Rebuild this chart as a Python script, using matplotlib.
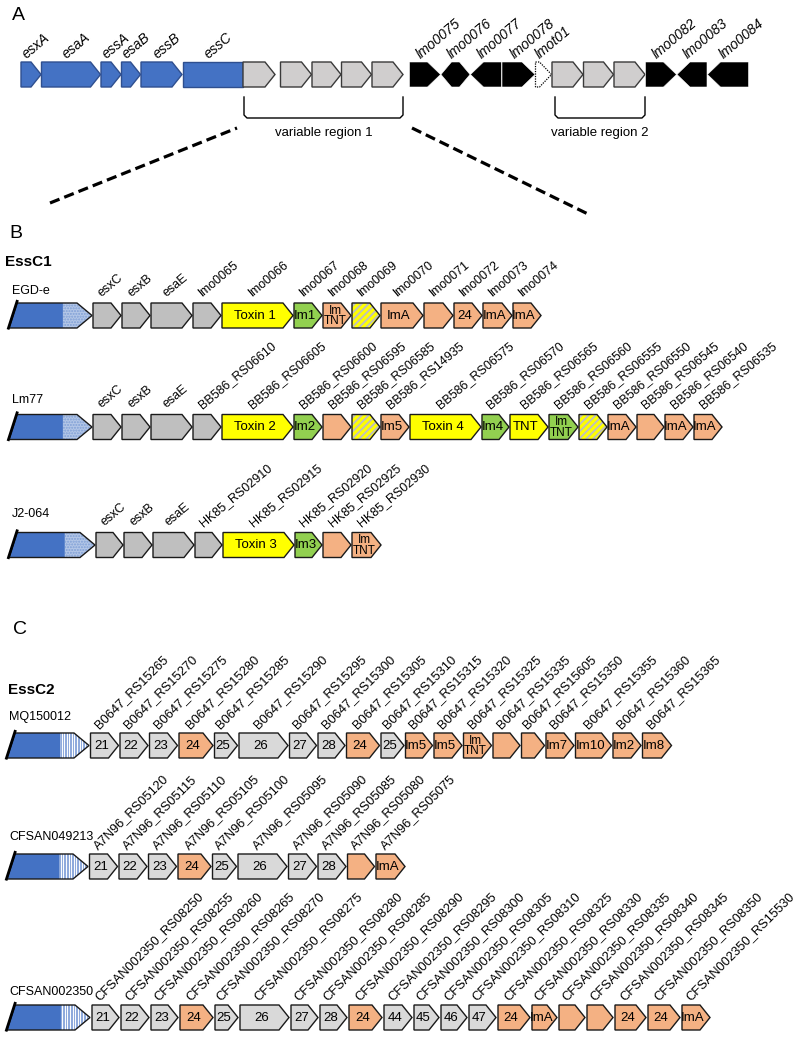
import matplotlib
matplotlib.use('Agg')
import matplotlib.pyplot as plt
from matplotlib.patches import Polygon

plt.rcParams['font.family'] = ['Liberation Sans', 'DejaVu Sans']

# ---------------- data ----------------
# Panel A: genomic overview
a_types = ['blue', 'blue', 'blue', 'blue', 'blue', 'blueN', 'grayA', 'gap', 'grayA', 'grayA',
           'grayA', 'grayA', 'gap', 'blkR', 'blkD', 'blkL', 'blkR', 'dot', 'grayA', 'grayA',
           'grayA', 'blkR', 'blkL', 'blkL']
a_lengths = [20, 59, 20, 19, 41, 60, 32, 5, 31, 29, 30, 31, 6, 31, 29, 31, 33, 16, 31, 30, 31, 31, 30, 41]
a_labels = ['esxA', 'esaA', 'essA', 'esaB', 'essB', 'essC', '', '', '', '', '', '', '',
            'lmo0075', 'lmo0076', 'lmo0077', 'lmo0078', 'lmot01', '', '', '', 'lmo0082', 'lmo0083', 'lmo0084']

# Panel B: EssC1 strains
b_names = ['EGD-e', 'Lm77', 'J2-064']
b_blue = [83, 83, 86]
egd_types = ['gray', 'gray', 'gray', 'gray', 'tox', 'im', 'sal', 'hat', 'sal', 'sal', 'sal', 'sal', 'sal']
egd_len = [28, 28, 41, 28, 71, 28, 28, 28, 42, 29, 28, 29, 28]
egd_text = ['', '', '', '', 'Toxin 1', 'Im1', 'Im\nTNT', '', 'ImA', '', '24', 'ImA', 'ImA']
egd_labels = ['esxC', 'esxB', 'esaE', 'lmo0065', 'lmo0066', 'lmo0067', 'lmo0068', 'lmo0069',
              'lmo0070', 'lmo0071', 'lmo0072', 'lmo0073', 'lmo0074']

lm77_types = ['gray', 'gray', 'gray', 'gray', 'tox', 'im', 'sal', 'hat', 'sal', 'tox', 'im', 'tox',
              'im', 'hat', 'sal', 'sal', 'sal', 'sal']
lm77_len = [28, 28, 41, 28, 71, 28, 28, 28, 28, 71, 27, 38, 29, 28, 28, 27, 28, 28]
lm77_text = ['', '', '', '', 'Toxin 2', 'Im2', '', '', 'Im5', 'Toxin 4', 'Im4', 'TNT', 'Im\nTNT', '',
             'ImA', '', 'ImA', 'ImA']
lm77_labels = ['esxC', 'esxB', 'esaE', 'BB586_RS06610', 'BB586_RS06605', 'BB586_RS06600',
               'BB586_RS06595', 'BB586_RS06585', 'BB586_RS14935', 'BB586_RS06575', 'BB586_RS06570',
               'BB586_RS06565', 'BB586_RS06560', 'BB586_RS06555', 'BB586_RS06550', 'BB586_RS06545',
               'BB586_RS06540', 'BB586_RS06535']

j2_types = ['gray', 'gray', 'gray', 'gray', 'tox', 'im', 'sal', 'sal']
j2_len = [27, 28, 41, 27, 71, 27, 28, 29]
j2_text = ['', '', '', '', 'Toxin 3', 'Im3', '', 'Im\nTNT']
j2_labels = ['esxC', 'esxB', 'esaE', 'HK85_RS02910', 'HK85_RS02915', 'HK85_RS02920',
             'HK85_RS02925', 'HK85_RS02930']

# Panel C: EssC2 strains
c_names = ['MQ150012', 'CFSAN049213', 'CFSAN002350']
c_blue = [82, 81, 83]
mq_types = ['grayC'] * 3 + ['sal', 'grayC', 'grayC', 'grayC', 'grayC', 'sal', 'grayC'] + ['sal'] * 9
mq_len = [28, 28, 28, 34, 23, 49, 27, 27, 33, 23, 27, 28, 28, 27, 23, 28, 36, 28, 29]
mq_text = ['21', '22', '23', '24', '25', '26', '27', '28', '24', '25', 'Im5', 'Im5', 'Im\nTNT', '', '',
           'Im7', 'Im10', 'Im2', 'Im8']
mq_labels = ['B0647_RS15265', 'B0647_RS15270', 'B0647_RS15275', 'B0647_RS15280', 'B0647_RS15285',
             'B0647_RS15290', 'B0647_RS15295', 'B0647_RS15300', 'B0647_RS15305', 'B0647_RS15310',
             'B0647_RS15315', 'B0647_RS15320', 'B0647_RS15325', 'B0647_RS15335', 'B0647_RS15605',
             'B0647_RS15350', 'B0647_RS15355', 'B0647_RS15360', 'B0647_RS15365']

cf49_types = ['grayC'] * 3 + ['sal', 'grayC', 'grayC', 'grayC', 'grayC', 'sal', 'sal']
cf49_len = [28, 28, 28, 33, 24, 49, 28, 28, 27, 29]
cf49_text = ['21', '22', '23', '24', '25', '26', '27', '28', '', 'ImA']
cf49_labels = ['A7N96_RS05120', 'A7N96_RS05115', 'A7N96_RS05110', 'A7N96_RS05105', 'A7N96_RS05100',
               'A7N96_RS05095', 'A7N96_RS05090', 'A7N96_RS05085', 'A7N96_RS05080', 'A7N96_RS05075']

cf23_types = (['grayC'] * 3 + ['sal'] + ['grayC'] * 4 + ['sal'] + ['grayC'] * 4 + ['sal'] * 7)
cf23_len = [27, 28, 27, 33, 23, 49, 27, 27, 33, 28, 25, 26, 27, 32, 25, 26, 26, 31, 32, 28]
cf23_text = ['21', '22', '23', '24', '25', '26', '27', '28', '24', '44', '45', '46', '47', '24', 'ImA',
             '', '', '24', '24', 'ImA']
cf23_labels = ['CFSAN002350_RS08250', 'CFSAN002350_RS08255', 'CFSAN002350_RS08260',
               'CFSAN002350_RS08265', 'CFSAN002350_RS08270', 'CFSAN002350_RS08275',
               'CFSAN002350_RS08280', 'CFSAN002350_RS08285', 'CFSAN002350_RS08290',
               'CFSAN002350_RS08295', 'CFSAN002350_RS08300', 'CFSAN002350_RS08305',
               'CFSAN002350_RS08310', 'CFSAN002350_RS08325', 'CFSAN002350_RS08330',
               'CFSAN002350_RS08335', 'CFSAN002350_RS08340', 'CFSAN002350_RS08345',
               'CFSAN002350_RS08350', 'CFSAN002350_RS15530']

# ---------------- styles ----------------
FILL = {'blue': '#4472c4', 'blueN': '#4472c4', 'grayA': '#d0cece', 'gray': '#bfbfbf',
        'grayC': '#d9d9d9', 'tox': '#ffff00', 'im': '#92d050', 'sal': '#f4b183',
        'hat': '#bfbfbf', 'blkR': 'black', 'blkL': 'black', 'blkD': 'black', 'dot': 'white'}
EDGE = '#1a1a1a'
H = 25
TIP = 10

fig = plt.figure(figsize=(8.0, 10.37), dpi=100)
ax = fig.add_axes([0, 0, 1, 1])
ax.set_xlim(0, 800)
ax.set_ylim(1037, 0)
ax.axis('off')


def shape(x0, x1, yc, kind, tip=TIP, h=H):
    top, bot = yc - h / 2, yc + h / 2
    t = min(tip, (x1 - x0))
    if kind == 'N':
        return [(x0, top), (x1, top), (x1, bot), (x0, bot)]
    if kind == 'L':
        return [(x0, yc), (x0 + t, top), (x1, top), (x1, bot), (x0 + t, bot)]
    if kind == 'D':
        t = min(tip, (x1 - x0) / 2 - 4)
        return [(x0, yc), (x0 + t, top), (x1 - t, top), (x1, yc), (x1 - t, bot), (x0 + t, bot)]
    return [(x0, top), (x1 - t, top), (x1, yc), (x1 - t, bot), (x0, bot)]


def hatch_stripes(patch, x0, x1, yc, color='#ffff00', step=7, lw=2.2, h=H):
    top, bot = yc - h / 2, yc + h / 2
    k = x0 - h
    while k < x1 + 2:
        ln, = ax.plot([k, k + h], [bot, top], color=color, lw=lw, solid_capstyle='butt', zorder=2)
        ln.set_clip_path(patch)
        k += step


def blue_element(x0, length, yc, style):
    x1 = x0 + length
    tip = 15
    xm = x0 + length * 0.65
    top, bot = yc - H / 2, yc + H / 2
    solid = Polygon([(x0, bot), (x0 + 8, top), (xm, top), (xm, bot)], closed=True,
                    facecolor='#4472c4', edgecolor='none', zorder=1)
    ax.add_patch(solid)
    pts = [(xm, top), (x1 - tip, top), (x1, yc), (x1 - tip, bot), (xm, bot)]
    if style == 'dots':
        st = Polygon(pts, closed=True, facecolor='#b4c7e7', edgecolor='#7f9fd6', lw=0,
                     hatch='......', zorder=1)
        ax.add_patch(st)
    else:
        st = Polygon(pts, closed=True, facecolor='#8faadc', edgecolor='none', zorder=1)
        ax.add_patch(st)
        x = xm + 1.2
        while x < x1:
            ln, = ax.plot([x, x], [top, bot], color='white', lw=0.7, zorder=2)
            ln.set_clip_path(st)
            x += 2.6
    outline = Polygon([(x0, bot), (x0 + 8, top), (x1 - tip, top), (x1, yc), (x1 - tip, bot)],
                      closed=True, facecolor='none', edgecolor=EDGE, lw=1.0, zorder=3)
    ax.add_patch(outline)
    ax.plot([x0 - 1, x0 + 8.5], [bot + 1.5, top - 3], color='black', lw=2.0, zorder=4,
            solid_capstyle='butt')
    return x1


def draw_row(x_start, yc, types, lengths, texts, labels, gap, rot, dx, dy, lfs, tfs=9.5,
             italic=False):
    x = x_start
    spans = []
    for i, (tp, ln_) in enumerate(zip(types, lengths)):
        if tp == 'gap':
            x += ln_
            spans.append(None)
            continue
        x0, x1 = x, x + ln_
        kind = {'blueN': 'N', 'blkL': 'L', 'blkD': 'D'}.get(tp, 'R')
        if tp.startswith('blk'):
            pts = shape(x0, x1, yc, kind, tip=13)
            p = Polygon(pts, closed=True, facecolor='black', edgecolor='white', lw=0.4, zorder=2)
            ax.add_patch(p)
        elif tp == 'dot':
            p = Polygon(shape(x0, x1, yc, 'R', tip=12), closed=True, facecolor='white',
                        edgecolor='black', lw=0.9, linestyle=(0, (1, 1)), zorder=2)
            ax.add_patch(p)
        elif tp == 'hat':
            pts = shape(x0, x1, yc, kind)
            p = Polygon(pts, closed=True, facecolor=FILL[tp], edgecolor='none', zorder=1)
            ax.add_patch(p)
            hatch_stripes(p, x0, x1, yc)
            ax.add_patch(Polygon(pts, closed=True, facecolor='none', edgecolor=EDGE, lw=1.0, zorder=3))
        else:
            pts = shape(x0, x1, yc, kind)
            ec = '#2f4f8f' if tp.startswith('blue') else ('#3a3a3a' if tp == 'grayA' else EDGE)
            p = Polygon(pts, closed=True, facecolor=FILL[tp], edgecolor=ec, lw=1.0, zorder=2)
            ax.add_patch(p)
        spans.append((x0, x1))
        if texts is not None and texts[i]:
            t = texts[i]
            if '\n' in t:
                ax.text((x0 + x1 - TIP * 0.4) / 2, yc + 0.5, t, ha='center', va='center',
                        fontsize=8.5, linespacing=0.85, zorder=5)
            else:
                ax.text((x0 + x1 - TIP * 0.6) / 2, yc + 0.5, t, ha='center', va='center',
                        fontsize=tfs, zorder=5)
        if labels is not None and labels[i]:
            cx = (x0 + x1) / 2
            ax.text(cx + dx, yc - H / 2 + dy, labels[i], rotation=rot, rotation_mode='anchor',
                    ha='left', va='baseline', fontsize=lfs,
                    fontstyle='italic' if italic else 'normal', zorder=5)
        x = x1 + gap
    return spans


# ---------------- Panel A ----------------
ax.text(18, 15, 'A', fontsize=14, ha='center', va='center')
yA = 74.5
spansA = draw_row(21, yA, a_types, a_lengths, None, a_labels, 0.5, 40, -4, -3, 10, italic=True)

# variable region brackets (computed from gene spans)
grayA_idx = [i for i, t in enumerate(a_types) if t == 'grayA']
reg1 = [spansA[i] for i in grayA_idx[:5]]
reg2 = [spansA[i] for i in grayA_idx[5:]]


def bracket(xl, xr, label):
    y0, y1 = 97, 118
    ax.plot([xl, xl, xl + 3, xr - 3, xr, xr], [y0, y1 - 3, y1, y1, y1 - 3, y0],
            color='black', lw=1.0)
    ax.text((xl + xr) / 2, 133, label, ha='center', va='center', fontsize=9.5)


bracket(reg1[0][0] + 1, reg1[-1][1], 'variable region 1')
bracket(reg2[0][0] + 3, reg2[-1][1], 'variable region 2')

ax.plot([50, 237], [203, 128], color='black', lw=2.3, dashes=(3.2, 1.6))
ax.plot([412, 590], [128, 215], color='black', lw=2.3, dashes=(3.2, 1.6))

# ---------------- Panel B ----------------
ax.text(16, 233, 'B', fontsize=14, ha='center', va='center')
ax.text(5, 262, 'EssC1', fontsize=11, fontweight='bold', ha='left', va='center')
b_y = [315.5, 427, 545]
b_label_y = [291, 400, 514]
b_sets = [(egd_types, egd_len, egd_text, egd_labels),
          (lm77_types, lm77_len, lm77_text, lm77_labels),
          (j2_types, j2_len, j2_text, j2_labels)]
for name, yc, ly, bl, (tps, lns, txs, lbs) in zip(b_names, b_y, b_label_y, b_blue, b_sets):
    ax.text(12, ly, name, fontsize=9, ha='left', va='center')
    xe = blue_element(9, bl, yc, 'dots')
    draw_row(xe + 1, yc, tps, lns, txs, lbs, 1.0, 40, -5, -6, 9)

# ---------------- Panel C ----------------
ax.text(20, 630, 'C', fontsize=14, ha='center', va='center')
ax.text(8, 690, 'EssC2', fontsize=11, fontweight='bold', ha='left', va='center')
c_y = [745.5, 866.5, 1017.5]
c_label_y = [717, 837, 992]
c_gaps = [1.5, 1.5, 2.0]
c_sets = [(mq_types, mq_len, mq_text, mq_labels),
          (cf49_types, cf49_len, cf49_text, cf49_labels),
          (cf23_types, cf23_len, cf23_text, cf23_labels)]
for name, yc, ly, bl, g, (tps, lns, txs, lbs) in zip(c_names, c_y, c_label_y, c_blue, c_gaps, c_sets):
    ax.text(9, ly, name, fontsize=9, ha='left', va='center')
    xe = blue_element(7, bl, yc, 'lines')
    draw_row(xe + g, yc, tps, lns, txs, lbs, g, 45, -6, -4, 9.3, tfs=9.5)

fig.savefig('out.png', dpi=100)
